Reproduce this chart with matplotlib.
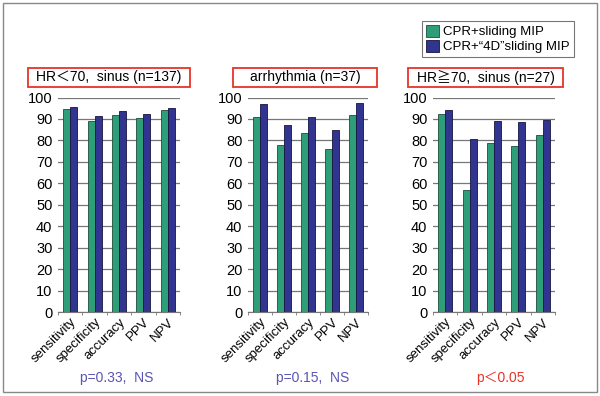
import numpy as np
import matplotlib
matplotlib.use('Agg')
import matplotlib.pyplot as plt
from matplotlib.patches import Rectangle, Patch

plt.rcParams['font.family'] = ['Liberation Sans', 'Noto Sans CJK JP', 'DejaVu Sans']

metrics = ['sensitivity', 'specificity', 'accuracy', 'PPV', 'NPV']
series_names = ['CPR+sliding MIP', 'CPR+\u201c4D\u201dsliding MIP']

panel_titles = ['HR\uff1c70,  sinus (n=137)', 'arrhythmia (n=37)',
                'HR\u226770,  sinus (n=27)']
p_texts = ['p=0.33,  NS', 'p=0.15,  NS', 'p\uff1c0.05']

# values, per panel
sliding = [
  [94.5, 89.0, 92.0, 90.5, 94.0],
  [91.0, 78.0, 83.5, 76.0, 92.0],
  [92.5, 57.0, 79.0, 77.5, 82.5],
]
sliding4d = [
  [95.5, 91.5, 93.5, 92.5, 95.0],
  [97.0, 87.0, 91.0, 85.0, 97.5],
  [94.0, 80.5, 89.0, 88.5, 89.5],
]

green = '#2e9e78'
blue = '#32358f'
pblue = '#5a55b5'
pred = '#e8332a'

W, H = 600.0, 396.0
fig = plt.figure(figsize=(6.0, 3.96), dpi=100)

# outer frame
fig.patches.append(Rectangle((3 / W, 1 - 392 / H), 594 / W, 389 / H,
                             transform=fig.transFigure, fill=False,
                             edgecolor='#888888', linewidth=1.0))

ax_left = [58, 248, 433]
ax_width = [122, 120, 122]
box_x = [(28, 190), (233, 377), (408, 563)]
p_x = [117, 313, 500]

x = np.arange(len(metrics))
bw = 0.29
for i in range(3):
  ax = fig.add_axes([ax_left[i] / W, 1 - 312 / H, ax_width[i] / W, (312 - 97.5) / H])
  ax.bar(x - bw / 2, sliding[i], bw, color=green, edgecolor='#1d4d3c', linewidth=0.6, zorder=3)
  ax.bar(x + bw / 2, sliding4d[i], bw, color=blue, edgecolor='#151540', linewidth=0.6, zorder=3)
  ax.set_ylim(0, 100)
  ax.set_xlim(-0.5, len(metrics) - 0.5)
  ax.set_yticks(range(0, 101, 10))
  ax.yaxis.grid(True, color='#777777', linewidth=0.9, zorder=0)
  for s in ['top', 'right', 'left']:
    ax.spines[s].set_visible(False)
  ax.spines['bottom'].set_color('#777777')
  ax.tick_params(axis='y', length=0, labelsize=10.5, pad=4)
  ax.set_xticks(x)
  ax.set_xticklabels(metrics, rotation=45, ha='right', rotation_mode='anchor', fontsize=9.5)
  ax.tick_params(axis='x', length=0, pad=3)
  ax.set_xticks(np.arange(-0.5, len(metrics)), minor=True)
  ax.tick_params(axis='x', which='minor', length=2, color='#777777')

  # title box
  x0, x1 = box_x[i]
  fig.patches.append(Rectangle((x0 / W, 1 - 87 / H), (x1 - x0) / W, 19 / H,
                               transform=fig.transFigure, fill=False,
                               edgecolor=pred, linewidth=1.3))
  fig.text((x0 + x1) / 2 / W, 1 - 77.5 / H, panel_titles[i], ha='center', va='center',
           fontsize=10)

  fig.text(p_x[i] / W, 1 - 378 / H, p_texts[i], ha='center', va='center',
           fontsize=10, color=pred if i == 2 else pblue)

handles = [Patch(facecolor=green, edgecolor='#1d4d3c', linewidth=0.6),
           Patch(facecolor=blue, edgecolor='#151540', linewidth=0.6)]
leg = fig.legend(handles, series_names, loc='upper left',
                 bbox_to_anchor=(422 / W, 1 - 21 / H), fontsize=9.5,
                 frameon=True, fancybox=False, edgecolor='#555555',
                 handlelength=1.0, handleheight=1.0, handletextpad=0.3,
                 labelspacing=0.1, borderpad=0.3, borderaxespad=0)
leg.get_frame().set_linewidth(0.8)

plt.savefig('out.png', dpi=100)
